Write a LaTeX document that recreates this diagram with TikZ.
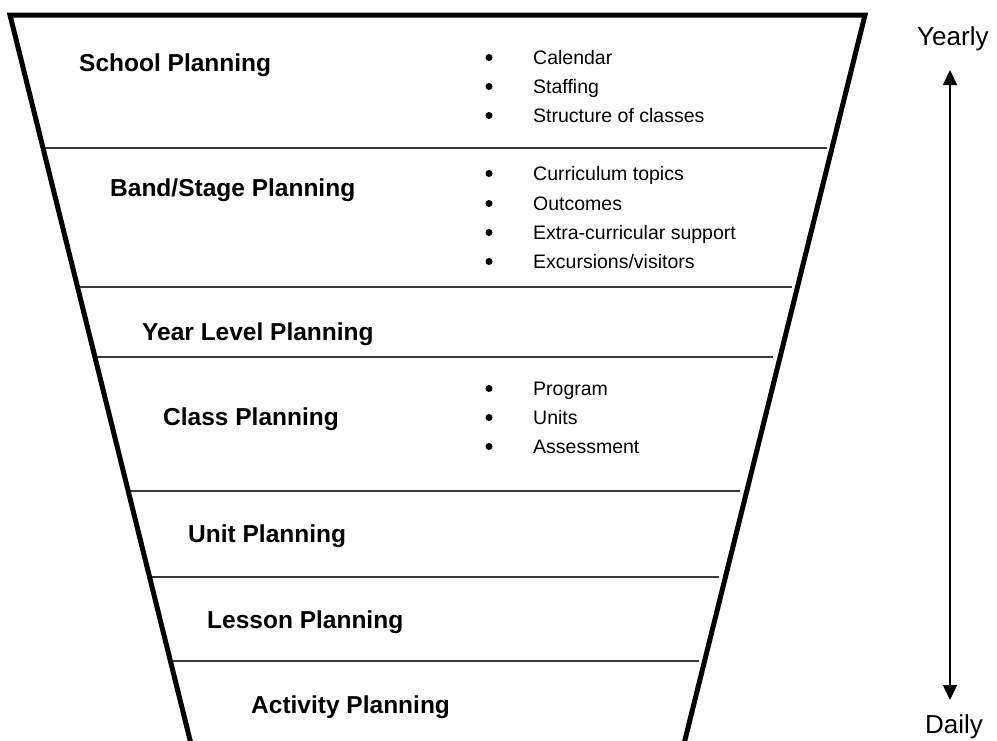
\documentclass[tikz,border=0pt]{standalone}
\usepackage{fontspec}
\setmainfont{Liberation Sans}
\usetikzlibrary{arrows.meta}
\begin{document}
\begin{tikzpicture}[x=1pt,y=-1pt,
  level/.style={anchor=base west, inner sep=0pt, font=\fontsize{24.5}{29}\selectfont\bfseries},
  item/.style={anchor=base west, inner sep=0pt, font=\fontsize{19.5}{24}\selectfont},
  dot/.style={circle, fill=black, inner sep=0pt, minimum size=7pt},
  divider/.style={line width=1.6pt, draw=black!78},
  funnel/.style={line width=5pt, line join=miter},
  scalelabel/.style={anchor=base west, inner sep=0pt, font=\fontsize{26}{30}\selectfont},
  timeline/.style={line width=1.5pt, {Triangle[length=15pt,width=14pt]}-{Triangle[length=15pt,width=14pt]}}
]
\useasboundingbox (0,0) rectangle (997,740);

% funnel outline corners (open at the bottom)
\coordinate (tl) at (10,15);
\coordinate (tr) at (865,15);
\coordinate (bl) at (195,760);
\coordinate (br) at (680,760);

% divider end points on the funnel sides
\coordinate (d1l) at (43,148);   \coordinate (d1r) at (827,148);
\coordinate (d2l) at (77.5,287); \coordinate (d2r) at (792,287);
\coordinate (d3l) at (95,357);   \coordinate (d3r) at (773,357);
\coordinate (d4l) at (128,491);  \coordinate (d4r) at (740,491);
\coordinate (d5l) at (149.5,577);\coordinate (d5r) at (719,577);
\coordinate (d6l) at (170.5,661);\coordinate (d6r) at (699,661);

\foreach \i in {1,...,6} {\draw[divider] (d\i l) -- (d\i r);}

\draw[funnel] (bl) -- (tl) -- (tr) -- (br);

% planning levels
\node[level] (school) at (79,71)  {School Planning};
\node[level] (band)   at (110,196) {Band/Stage Planning};
\node[level] (year)   at (142,340) {Year Level Planning};
\node[level] (class)  at (163,425) {Class Planning};
\node[level] (unit)   at (188,542) {Unit Planning};
\node[level] (lesson) at (207,628) {Lesson Planning};
\node[level] (activity) at (251,713) {Activity Planning};

% bullet lists
\node[item] (s1) at (533,64)  {Calendar};
\node[item] (s2) at (533,93)  {Staffing};
\node[item] (s3) at (533,122) {Structure of classes};
\node[item] (b1) at (533,180) {Curriculum topics};
\node[item] (b2) at (533,210) {Outcomes};
\node[item] (b3) at (533,239) {Extra-curricular support};
\node[item] (b4) at (533,268) {Excursions/visitors};
\node[item] (c1) at (533,395) {Program};
\node[item] (c2) at (533,424) {Units};
\node[item] (c3) at (533,453) {Assessment};

\foreach \n/\y in {s1/64,s2/93,s3/122,b1/180,b2/210,b3/239,b4/268,c1/395,c2/424,c3/453}
  \node[dot] (dot-\n) at (489,\y-6.5) {};

% time scale
\node[scalelabel] (yearly) at (917,45) {Yearly};
\node[scalelabel] (daily)  at (925,733) {Daily};
\coordinate (ttop) at (950,70);
\coordinate (tbot) at (950,700);
\draw[timeline] (ttop) -- (tbot);
\end{tikzpicture}
\end{document}
